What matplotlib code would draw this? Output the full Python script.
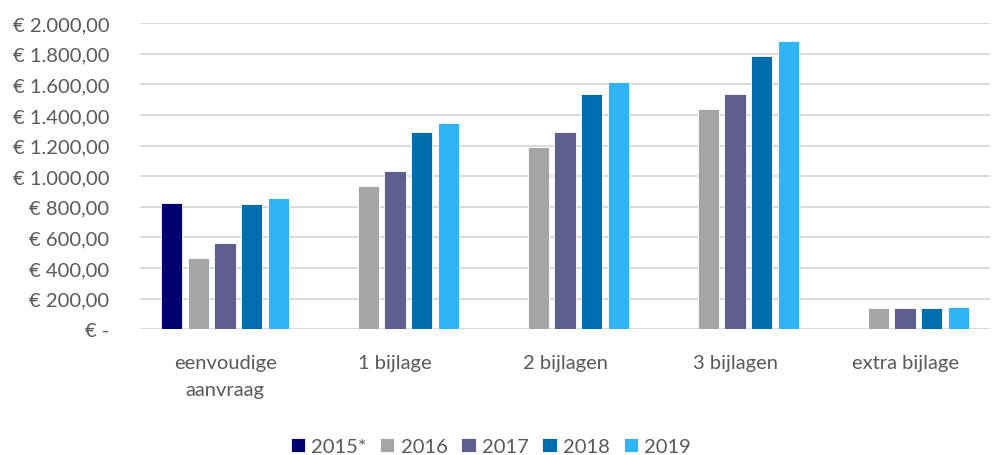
import numpy as np
from matplotlib import pyplot as plt

plt.rcParams['font.family'] = ['Lato', 'DejaVu Sans']

categories = ['eenvoudige\naanvraag', '1 bijlage', '2 bijlagen', '3 bijlagen', 'extra bijlage']
years = ['2015*', '2016', '2017', '2018', '2019']
# kosten per jaar (nan = geen waarde)
v2015 = [825, np.nan, np.nan, np.nan, np.nan]
v2016 = [465, 935, 1188, 1437, 138]
v2017 = [565, 1035, 1288, 1538, 138]
v2018 = [817, 1288, 1538, 1788, 138]
v2019 = [860, 1345, 1615, 1882, 148]
series = [v2015, v2016, v2017, v2018, v2019]
colors = ['#000070', '#A5A5A5', '#5E5E8F', '#006EAE', '#2FB4F6']
yticks = [0, 200, 400, 600, 800, 1000, 1200, 1400, 1600, 1800, 2000]


def euro(v):
    if v == 0:
        return '€ -'
    return '€ ' + f'{v:,.2f}'.replace(',', 'X').replace('.', ',').replace('X', '.')


fig = plt.figure(figsize=(9.93, 4.56), dpi=100)
ax = fig.add_axes([0.141, 0.276, 0.856, 0.671])

x = np.arange(len(categories))
pitch = 0.157
width = 0.125
for i, (vals, c, lab) in enumerate(zip(series, colors, years)):
    ax.bar(x + (i - 2) * pitch, vals, width, color=c, label=lab, zorder=3,
           edgecolor='white', linewidth=0.6)

ax.set_ylim(0, 2000)
ax.set_xlim(-0.5, len(categories) - 0.5)
ax.set_yticks(yticks)
ax.set_yticklabels([euro(v) for v in yticks])
ax.set_xticks(x)
ax.set_xticklabels(categories, linespacing=1.7)
ax.grid(axis='y', color='#D9D9D9', linewidth=1.4, zorder=0)
for s in ['top', 'right', 'left', 'bottom']:
    ax.spines[s].set_visible(False)
ax.tick_params(axis='both', length=0, colors='#595959', labelsize=14.5)
ax.tick_params(axis='x', pad=18)
ax.tick_params(axis='y', pad=22)

fig.legend(loc='lower center', bbox_to_anchor=(0.494, -0.04), ncol=5, frameon=False,
           fontsize=14.5, labelcolor='#595959', handlelength=0.7, handleheight=0.7,
           handletextpad=0.3, columnspacing=0.7)

plt.savefig('out.png', dpi=100)
